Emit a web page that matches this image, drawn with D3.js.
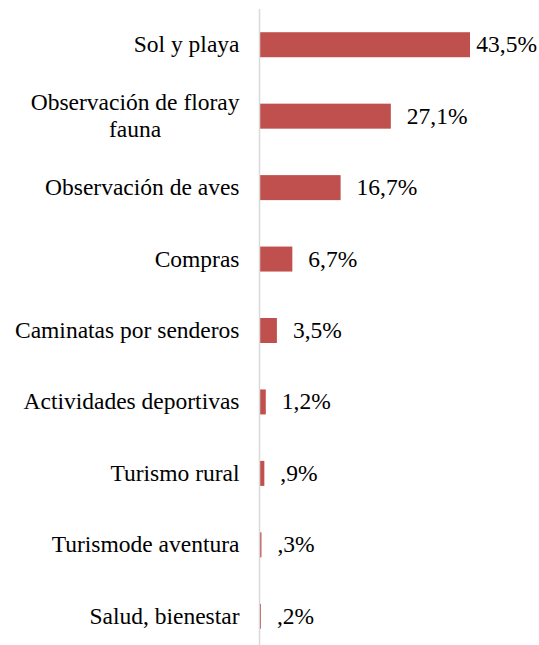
<!DOCTYPE html>
<html>
<head>
<meta charset="utf-8">
<script src="https://cdn.jsdelivr.net/npm/d3@7"></script>
</head>
<body style="margin:0">
<svg id="chart" width="539" height="645"></svg>
<script>
// categories (top to bottom), lines split where the label wraps
var categories = [
  ["Sol y playa"],
  ["Observación de floray", "fauna"],
  ["Observación de aves"],
  ["Compras"],
  ["Caminatas por senderos"],
  ["Actividades deportivas"],
  ["Turismo rural"],
  ["Turismode aventura"],
  ["Salud, bienestar"]
];
var values = [43.5, 27.1, 16.7, 6.7, 3.5, 1.2, 0.9, 0.3, 0.2];
var valueLabels = ["43,5%", "27,1%", "16,7%", "6,7%", "3,5%", "1,2%", ",9%", ",3%", ",2%"];

var svg = d3.select('#chart');
var W = 539, fontSize = 23.5;
var FONT = "'Times New Roman'";
var left = 260;

var x = d3.scaleLinear().domain([0, 43.5]).range([left, 470]);
var y = d3.scaleBand().domain(d3.range(values.length)).range([9, 652]).paddingInner(0.65).paddingOuter(0.325);

// bars
svg.selectAll('rect.bar').data(values).enter().append('rect')
  .attr('class', 'bar')
  .attr('x', x(0))
  .attr('y', function(d, i) { return y(i); })
  .attr('width', function(d) { return x(d) - x(0); })
  .attr('height', y.bandwidth())
  .attr('fill', '#c0504d');

// axis line
svg.append('line')
  .attr('x1', 259.5).attr('x2', 259.5)
  .attr('y1', 9).attr('y2', 645)
  .attr('stroke', '#d9d9d9').attr('stroke-width', 1.5);

// category labels
var lineH = 27;
categories.forEach(function(lines, i) {
  var cy = y(i) + y.bandwidth() / 2;
  var n = lines.length;
  if (n == 1) {
    svg.append('text')
      .attr('font-size', fontSize).style('font-family', FONT)
      .attr('text-anchor', 'end')
      .attr('x', 239.5)
      .attr('y', cy + 7.5)
      .text(lines[0]);
  } else {
    // wrapped label: lines centred on each other, block right aligned
    var first = svg.append('text').attr('font-size', fontSize).style('font-family', FONT)
      .attr('text-anchor', 'end').attr('x', 239.5)
      .attr('y', cy + 7.5 - (n - 1) / 2 * lineH)
      .text(lines[0]);
    var cx = 239.5 - first.node().getComputedTextLength() / 2;
    lines.slice(1).forEach(function(l, k) {
      svg.append('text').attr('font-size', fontSize).style('font-family', FONT)
        .attr('text-anchor', 'middle')
        .attr('x', cx)
        .attr('y', cy + 7.5 + (k + 1 - (n - 1) / 2) * lineH)
        .text(l);
    });
  }
});

// value labels
svg.selectAll('text.val').data(values).enter().append('text')
  .attr('class', 'val')
  .attr('font-size', fontSize)
  .style('font-family', FONT)
  .attr('y', function(d, i) { return y(i) + y.bandwidth() / 2 + 7.5; })
  .text(function(d, i) { return valueLabels[i]; })
  .attr('x', function(d) {
    var tw = this.getComputedTextLength();
    return Math.min(x(d) + 16, W - 2 - tw);
  });
</script>
</body>
</html>
